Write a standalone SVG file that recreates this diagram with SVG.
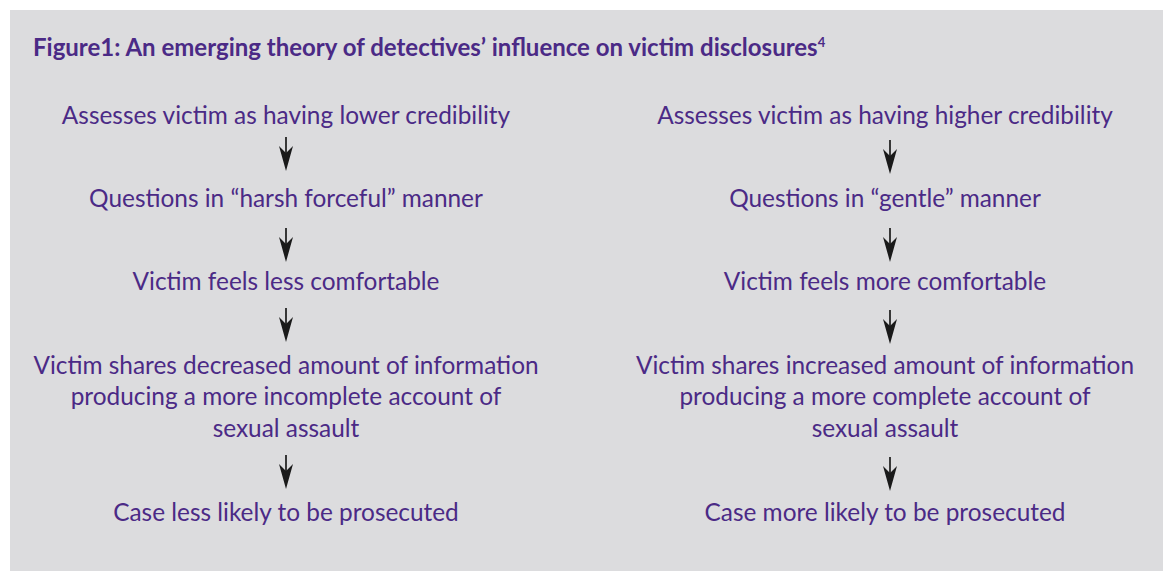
<svg xmlns="http://www.w3.org/2000/svg" width="1163" height="571" viewBox="0 0 1163 571">
  <style>
    .panel { fill: #dcdcde; }
    .title { font-family: Lato, "Open Sans", sans-serif; font-weight: 700; font-size: 24px; fill: #4b2a86; }
    .sup { font-size: 13px; }
    .label { font-family: Lato, "Open Sans", sans-serif; font-size: 24.4px; fill: #4b2a86; text-anchor: middle; }
    .shaft { stroke: #1a1a1a; stroke-width: 1.7; }
    .head { fill: #1a1a1a; }
  </style>
  <defs>
    <!-- down arrow with barbed head; origin at the tip -->
    <g id="down-arrow">
      <line class="shaft" x1="0" y1="-34" x2="0" y2="-14"/>
      <path class="head" d="M0,0 L-7,-25 L0,-18 L7,-25 Z"/>
    </g>
  </defs>

  <rect class="panel" x="10" y="10" width="1153" height="561"/>

  <g id="title">
    <text class="title" x="33" y="56">Figure1: An emerging theory of detectives’ influence on victim disclosures<tspan class="sup" dy="-9">4</tspan></text>
  </g>

  <!-- left column -->
  <g id="left-credibility"><text class="label" x="286" y="124">Assesses victim as having lower credibility</text></g>
  <g id="left-questions"><text class="label" x="286" y="207">Questions in “harsh forceful” manner</text></g>
  <g id="left-comfort"><text class="label" x="286" y="290">Victim feels less comfortable</text></g>
  <g id="left-shares">
    <text class="label" x="286" y="374">Victim shares decreased amount of information</text>
    <text class="label" x="286" y="405">producing a more incomplete account of</text>
    <text class="label" x="286" y="437">sexual assault</text>
  </g>
  <g id="left-case"><text class="label" x="286" y="521">Case less likely to be prosecuted</text></g>

  <!-- right column -->
  <g id="right-credibility"><text class="label" x="885" y="124">Assesses victim as having higher credibility</text></g>
  <g id="right-questions"><text class="label" x="885" y="207">Questions in “gentle” manner</text></g>
  <g id="right-comfort"><text class="label" x="885" y="290">Victim feels more comfortable</text></g>
  <g id="right-shares">
    <text class="label" x="885" y="374">Victim shares increased amount of information</text>
    <text class="label" x="885" y="405">producing a more complete account of</text>
    <text class="label" x="885" y="437">sexual assault</text>
  </g>
  <g id="right-case"><text class="label" x="885" y="521">Case more likely to be prosecuted</text></g>

  <g id="connectors">
    <use href="#down-arrow" x="286" y="171"/>
    <use href="#down-arrow" x="286" y="262"/>
    <use href="#down-arrow" x="286" y="342"/>
    <use href="#down-arrow" x="286" y="489"/>
    <use href="#down-arrow" x="890" y="174"/>
    <use href="#down-arrow" x="890" y="262"/>
    <use href="#down-arrow" x="890" y="344"/>
    <use href="#down-arrow" x="890" y="491"/>
  </g>
</svg>
